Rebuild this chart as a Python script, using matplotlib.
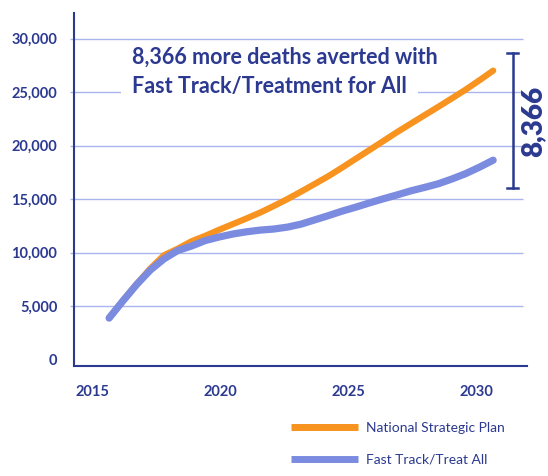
import matplotlib; matplotlib.use("Agg")
import matplotlib.pyplot as plt
import numpy as np

plt.rcParams['font.family'] = ['Lato', 'DejaVu Sans']

NAVY = "#2B3990"
ORANGE = "#F7931E"
BLUE = "#7B8BE0"
GRID = "#AAB4EE"

# cumulative deaths averted, every half year
YEARS = np.arange(2016, 2030.5, 0.5)
NSP = [3880, 5500, 7050, 8500, 9750, 10360, 11050, 11560, 12120, 12650,
       13180, 13730, 14350, 15000, 15700, 16420, 17150, 17950, 18780, 19600,
       20430, 21260, 22050, 22840, 23620, 24420, 25230, 26100, 27000]
FAST_TRACK = [3880, 5470, 7000, 8360, 9410, 10190, 10610, 11120, 11450, 11730,
              11940, 12100, 12200, 12380, 12660, 13060, 13460, 13880, 14250, 14650,
              15030, 15390, 15770, 16090, 16430, 16880, 17380, 17980, 18634]
GAP = NSP[-1] - FAST_TRACK[-1]
YTICKS = [0, 5000, 10000, 15000, 20000, 25000, 30000]
XTICK_LABELS = ["2015", "2020", "2025", "2030"]

fig = plt.figure(figsize=(5.48, 4.76), dpi=100)
ax = fig.add_axes([0.135, 0.231, 0.827, 0.742])

# gridlines (with little stubs left of the spine)
ax.hlines(YTICKS[1:], -0.009, 0.99, transform=ax.get_yaxis_transform(),
          color=GRID, lw=1, zorder=1, clip_on=False)

ax.plot(YEARS, NSP, color=ORANGE, lw=4.5, solid_capstyle="round",
        solid_joinstyle="round", zorder=4, label="National Strategic Plan")
ax.plot(YEARS, FAST_TRACK, color=BLUE, lw=5.2, solid_capstyle="round",
        solid_joinstyle="round", zorder=5, label="Fast Track/Treat All")

ax.set_xlim(2014.72, 2031.24)
ax.set_ylim(-600, 32400)
ax.set_yticks(YTICKS)
ax.set_yticklabels([f"{v:,}" for v in YTICKS])
ax.set_xticks(np.linspace(2015.38, 2029.38, 4))
ax.set_xticklabels(XTICK_LABELS)
ax.tick_params(axis="both", length=0, labelsize=10.5, labelcolor=NAVY)
ax.tick_params(axis="y", pad=12)
ax.tick_params(axis="x", pad=14)
for lab in ax.get_xticklabels() + ax.get_yticklabels():
    lab.set_fontweight("bold")
for s in ["top", "right"]:
    ax.spines[s].set_visible(False)
for s in ["left", "bottom"]:
    ax.spines[s].set_color(NAVY)
    ax.spines[s].set_linewidth(1.5)

# headline annotation (second line masks the gridline behind it)
ax.text(2016.84, 25500, "Fast Track/Treatment for All", color=NAVY,
        fontsize=15.5, fontweight="bold", va="center", ha="left", zorder=3,
        bbox=dict(facecolor="white", edgecolor="none", pad=8))
ax.text(2016.84, 29200, f"{GAP:,} more deaths averted with", color=NAVY,
        fontsize=15.5, fontweight="bold", va="top", ha="left", zorder=3.5)

# bracket showing the gap
bx = 2030.72
ax.plot([bx, bx], [16030, 28640], color=NAVY, lw=1.8, zorder=3, clip_on=False)
for yb in (16030, 28640):
    ax.plot([bx - 0.2, bx + 0.2], [yb, yb], color=NAVY, lw=1.8, zorder=3, clip_on=False)
ax.text(bx + 0.75, 22300, f"{GAP:,}", rotation=90, color=NAVY, fontsize=20,
        fontweight="heavy", va="center", ha="center", clip_on=False)

leg = ax.legend(loc="upper left", bbox_to_anchor=(291/548, 1 - 422/476),
                bbox_transform=fig.transFigure, frameon=False, fontsize=10,
                handlelength=4.8, handletextpad=0.6, labelspacing=1.4,
                borderpad=0, borderaxespad=0)
for t in leg.get_texts():
    t.set_color(NAVY)
for h in leg.legend_handles:
    h.set_linewidth(5)
    h.set_solid_capstyle("butt")

fig.savefig("out.png", dpi=100)
